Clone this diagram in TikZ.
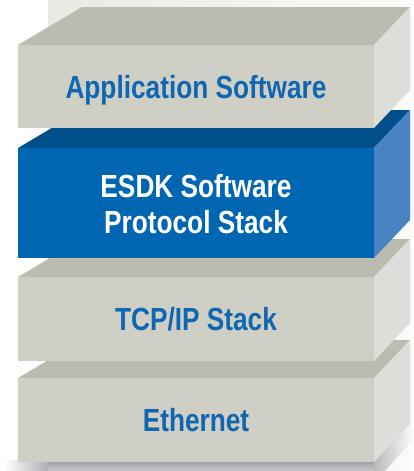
\documentclass[tikz,border=0pt]{standalone}
\usepackage{fontspec}
\setmainfont{Liberation Sans}[FakeStretch=0.82]
\definecolor{gfront}{HTML}{CFCFC6}
\definecolor{gtop}{HTML}{BBBBAF}
\definecolor{gside}{HTML}{DDDED9}
\definecolor{bfront}{HTML}{0066B2}
\definecolor{btop}{HTML}{004F8A}
\definecolor{bside}{HTML}{4A83C4}
\definecolor{txtblue}{HTML}{0F67B1}
\definecolor{backl}{HTML}{E9E9E5}
\definecolor{backr}{HTML}{FAFAF8}
\definecolor{shad}{HTML}{9C9CA2}
\tikzset{
  lbl/.style={font=\fontsize{32}{36}\selectfont\bfseries, align=center, inner sep=0pt},
  graylbl/.style={lbl, text=txtblue, anchor=base},
  bluelbl/.style={lbl, text=white},
}
% #1 top y, #2 bottom y, #3 top colour, #4 side colour, #5 front colour, #6 name
\newcommand\layerbox[6]{%
  \fill[#3] (18,#1) -- (374,#1) -- (410,#1-38) -- (82,#1-38) -- cycle;
  \fill[#4] (374,#1) -- (410,#1-38) -- (410,#2-38) -- (374,#2) -- cycle;
  \fill[#5] (18,#1) rectangle (374,#2);
  \coordinate (#6) at (196,{(#1+#2)/2});
}
\begin{document}
\begin{tikzpicture}[x=1pt,y=-1pt]
  \useasboundingbox (0,0) rectangle (413,471);
  % backdrop
  \shade[left color=backl, right color=backr] (48,0) rectangle (413,471);
  % shadow under bottom layer
  \shade[top color=shad, bottom color=shad!55] (48,460) rectangle (380,471);
  \shade[left color=white, right color=shad!80] (4,460) rectangle (48,471);
  \shade[left color=shad!70, right color=backr] (374,462) -- (410,424) -- (413,428) -- (413,440) -- (385,471) -- (374,471) -- cycle;
  % layers, bottom first
  \layerbox{378}{462}{gtop}{gside}{gfront}{ceth}
  \layerbox{277}{361}{gtop}{gside}{gfront}{ctcp}
  \layerbox{148}{258}{btop}{bside}{bfront}{cesdk}
  \layerbox{45}{128}{gtop}{gside}{gfront}{capp}
  \node[graylbl] (app) at ([yshift=-11.5pt]capp) {Application Software};
  \node[bluelbl] (esdk) at ([yshift=-1pt]cesdk) {ESDK Software\\Protocol Stack};
  \node[graylbl] (tcp) at ([yshift=-11.5pt]ctcp) {TCP/IP Stack};
  \node[graylbl] (eth) at ([yshift=-11.5pt]ceth) {Ethernet};
\end{tikzpicture}
\end{document}
